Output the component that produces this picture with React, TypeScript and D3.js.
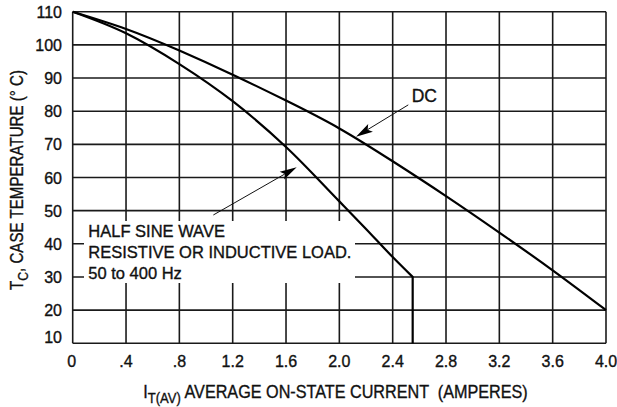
import React from "react";
import * as d3 from "d3";

const xTickValues = [0, 0.4, 0.8, 1.2, 1.6, 2.0, 2.4, 2.8, 3.2, 3.6, 4.0];
const xTickLabels = ["0", ".4", ".8", "1.2", "1.6", "2.0", "2.4", "2.8", "3.2", "3.6", "4.0"];
const yTickValues = [110, 100, 90, 80, 70, 60, 50, 40, 30, 20, 10];
const yTickLabels = ["110", "100", "90", "80", "70", "60", "50", "40", "30", "20", "10"];

const dcCurrent = [0, 0.4, 0.8, 1.2, 1.6, 2.0, 2.4, 2.8, 3.2, 3.6, 4.0];
const dcTemp = [110, 104.8, 98.3, 91, 83.2, 74.8, 64.9, 54.4, 43.4, 32, 20];

const halfSineCurrent = [0, 0.4, 0.8, 1.2, 1.6, 2.0, 2.2, 2.4, 2.55];
const halfSineTemp = [110, 103.5, 94.2, 83, 69.2, 52.8, 44.5, 36, 30];
const halfSineDropTemp = 10;

const dcLabel = "DC";
const noteLines = ["HALF SINE WAVE", "RESISTIVE OR INDUCTIVE LOAD.", "50 to 400 Hz"];
// arrows: [tailCurrent, tailTemp, tipCurrent, tipTemp]
const dcArrow = [2.517, 81.9, 2.125, 72.3];
const halfSineArrow = [1.055, 48.7, 1.68, 63.1];

const W = 617;
const H = 407;
const FONT = "'Liberation Sans', Arial, Helvetica, sans-serif";

export default function App() {
  const x = d3.scaleLinear().domain([0, 4]).range([72.7, 606]);
  const y = d3.scaleLinear().domain([10, 110]).range([343.3, 11.7]);

  const natural = d3
    .line<[number, number]>()
    .x((d) => x(d[0]))
    .y((d) => y(d[1]))
    .curve(d3.curveNatural);

  const smooth = d3
    .line<[number, number]>()
    .x((d) => x(d[0]))
    .y((d) => y(d[1]))
    .curve(d3.curveMonotoneX);

  const dcPts: [number, number][] = dcCurrent.map((c, i) => [c, dcTemp[i]]);
  const hsPts: [number, number][] = halfSineCurrent.map((c, i) => [c, halfSineTemp[i]]);
  const lastHs = halfSineCurrent[halfSineCurrent.length - 1];
  const hsPath = (smooth(hsPts) || "") + `L${x(lastHs)},${y(halfSineDropTemp)}`;

  const arrow = (a: number[], key: string) => {
    const x1 = x(a[0]);
    const y1 = y(a[1]);
    const x2 = x(a[2]);
    const y2 = y(a[3]);
    const dx = x2 - x1;
    const dy = y2 - y1;
    const len = Math.sqrt(dx * dx + dy * dy);
    const ux = dx / len;
    const uy = dy / len;
    const hl = 17;
    const hw = 4.5;
    const bx = x2 - ux * hl;
    const by = y2 - uy * hl;
    const px = -uy;
    const py = ux;
    const mx = x2 - ux * hl * 0.8;
    const my = y2 - uy * hl * 0.8;
    return (
      <g key={key}>
        <line x1={x1} y1={y1} x2={mx} y2={my} stroke="#111" strokeWidth={1} />
        <path
          d={`M${x2},${y2}L${bx + px * hw},${by + py * hw}L${mx},${my}L${bx - px * hw},${by - py * hw}Z`}
          fill="#000"
        />
      </g>
    );
  };

  const x0 = x(0);
  const x4 = x(4);
  const yTop = y(110);
  const yBot = y(10);
  const textStroke = { stroke: "#111", strokeWidth: 0.35 };

  return (
    <svg
      width={W}
      height={H}
      style={{ position: "absolute", left: 0, top: 0, background: "#fff" }}
      fontFamily={FONT}
    >
      <rect x={0} y={0} width={W} height={H} fill="#fff" />
      {/* grid */}
      <g stroke="#1a1a1a" strokeWidth={1.6}>
        {xTickValues.map((v) => (
          <line key={"gx" + v} x1={x(v)} x2={x(v)} y1={yTop} y2={yBot} />
        ))}
        {yTickValues.map((v) => (
          <line key={"gy" + v} x1={x0} x2={x4} y1={y(v)} y2={y(v)} />
        ))}
      </g>
      {/* note box */}
      <rect x={84} y={221} width={271} height={62} fill="#fff" />
      <g fontSize={16.5} fill="#111" {...textStroke}>
        {noteLines.map((t, i) => (
          <text key={t} x={88.3} y={236.7 + i * 21.2}>
            {t}
          </text>
        ))}
      </g>
      {/* curves */}
      <path d={natural(dcPts) || ""} fill="none" stroke="#000" strokeWidth={2.2} />
      <path d={hsPath} fill="none" stroke="#000" strokeWidth={2.2} />
      {/* annotations */}
      {arrow(dcArrow, "a1")}
      {arrow(halfSineArrow, "a2")}
      <text x={411.7} y={101.7} fontSize={17.5} fill="#111" {...textStroke}>
        {dcLabel}
      </text>
      {/* y tick labels */}
      <g fontSize={16} fill="#111" textAnchor="end" {...textStroke}>
        {yTickValues.map((v, i) => (
          <text key={"yl" + v} x={62} y={v === 10 ? y(v) : y(v) + 6}>
            {yTickLabels[i]}
          </text>
        ))}
      </g>
      {/* x tick labels */}
      <g fontSize={16} fill="#111" textAnchor="middle" {...textStroke}>
        {xTickValues.map((v, i) => (
          <text key={"xl" + v} x={x(v) - (i === 0 ? 1 : 0)} y={367}>
            {xTickLabels[i]}
          </text>
        ))}
      </g>
      {/* x title */}
      <g transform="translate(143.3,398) scale(0.9,1)">
        <text fontSize={18} fill="#111" style={{ whiteSpace: "pre" }} {...textStroke}>
          I
          <tspan fontSize={14.5} dy={5}>
            T(AV)
          </tspan>
          <tspan dy={-5}>{" AVERAGE ON-STATE CURRENT  (AMPERES)"}</tspan>
        </text>
      </g>
      {/* y title */}
      <g transform="translate(23.3,180) rotate(-90) scale(0.84,1)">
        <text fontSize={18} fill="#111" textAnchor="middle" style={{ whiteSpace: "pre" }} {...textStroke}>
          T
          <tspan fontSize={14.5} dy={5}>
            C
          </tspan>
          <tspan dy={-5}>{", CASE TEMPERATURE (° C)"}</tspan>
        </text>
      </g>
    </svg>
  );
}
